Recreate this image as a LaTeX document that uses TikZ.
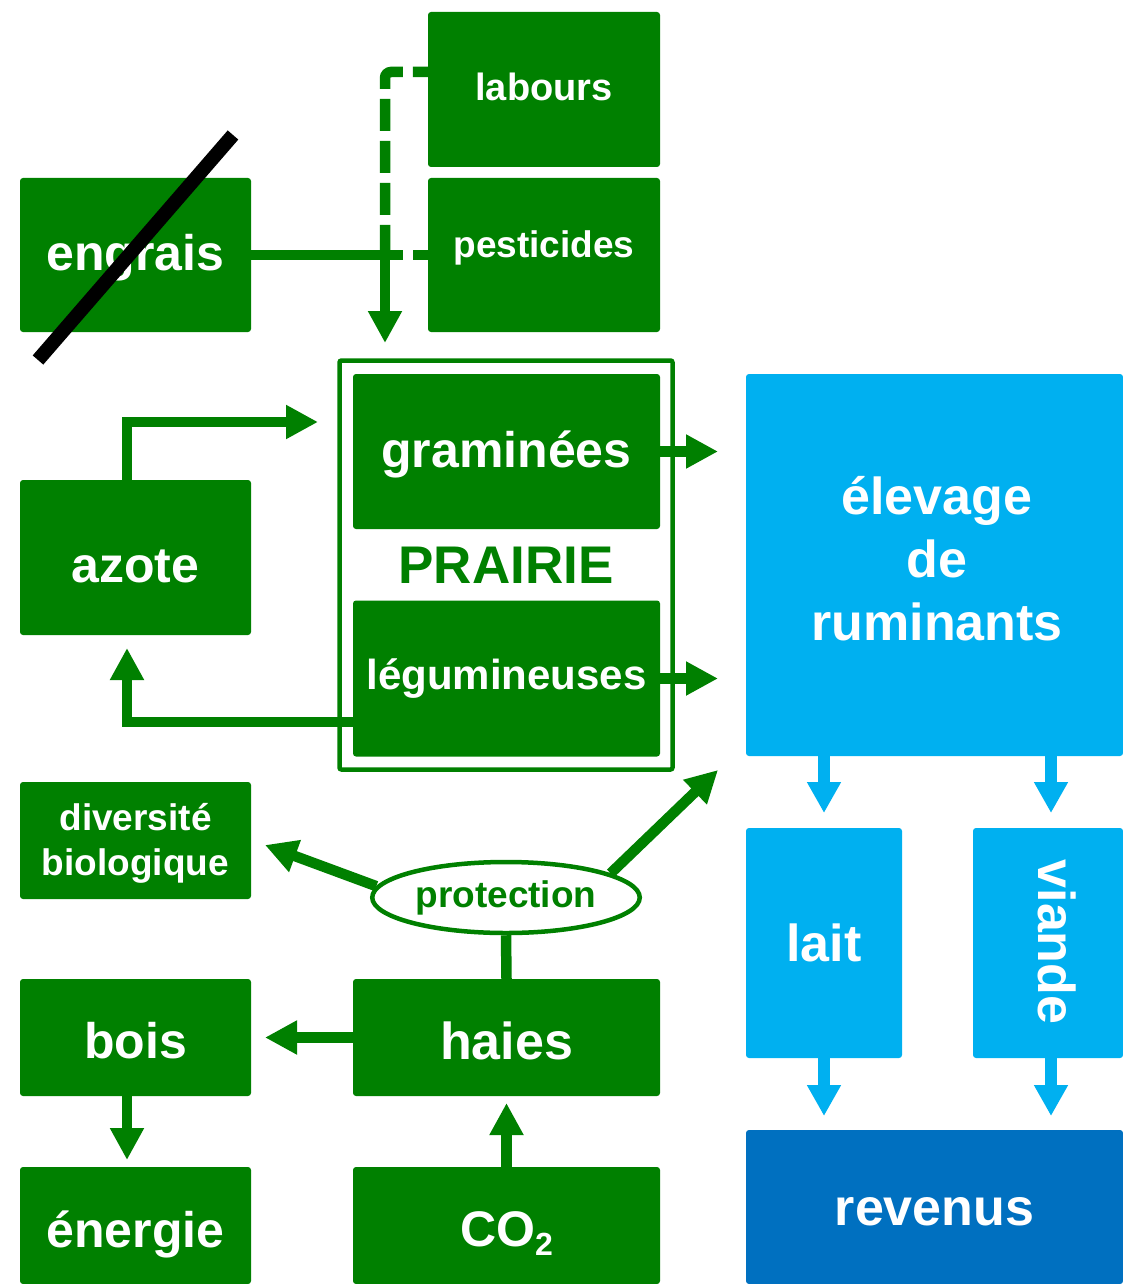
\documentclass[tikz,border=0pt]{standalone}
\usepackage{fontspec}
\setmainfont{Liberation Sans}
\usetikzlibrary{arrows.meta,shapes.geometric}
\definecolor{gr}{HTML}{008000}
\definecolor{lb}{HTML}{00B0F0}
\definecolor{db}{HTML}{0070C0}
\newcommand{\myfs}[2]{\fontsize{#1}{#2}\selectfont}
\newcommand{\mvtxt}[2]{\raisebox{#1}[\height][\depth]{#2}}
\begin{document}
\begin{tikzpicture}[x=1pt,y=-1pt,
  box/.style={rectangle, rounded corners=3pt, inner sep=0pt, text=white, align=center},
  gbox/.style={box, fill=gr},
  bbox/.style={box, fill=lb},
  tipg/.style={-{Triangle[width=32pt,length=32pt]}},
  garrow/.style={draw=gr, line width=10.5pt, tipg},
  gline/.style={draw=gr, line width=10.5pt},
  gdash/.style={draw=gr, line width=10.5pt, dash pattern=on 32pt off 10pt, dash phase=17pt},
  barrow/.style={draw=lb, line width=11.5pt, -{Triangle[width=32pt,length=31pt]}},
  fa/.style={font=\bfseries\myfs{50}{60}},
  fb/.style={font=\bfseries\myfs{52}{63}},
  fc/.style={font=\bfseries\myfs{38}{45}}
]
\useasboundingbox (0,0) rectangle (1123,1284);
\fill[white] (0,0) rectangle (1123,1284);

% top boxes
\node[gbox, fc, minimum width=232pt, minimum height=155pt] (labours) at (544,89.5) {\mvtxt{3pt}{labours}};
\node[gbox, font=\bfseries\myfs{37}{45}, minimum width=232pt, minimum height=154pt] (pesticides) at (544,255) {\mvtxt{7pt}{pesticides}};
\node[gbox, fa, minimum width=231pt, minimum height=154pt] (engrais) at (135.5,255) {\mvtxt{-3pt}{engrais}};
\node[gbox, fa, minimum width=231pt, minimum height=155pt] (azote) at (135.5,557.5) {\mvtxt{-9pt}{azote}};

% prairie
\node[draw=gr, line width=4.5pt, rounded corners=2pt, minimum width=333pt, minimum height=409pt, inner sep=0pt] (frame) at (506,565) {};
\node[gbox, fa, minimum width=307pt, minimum height=155pt] (gram) at (506.5,451.5) {\mvtxt{-3pt}{graminées}};
\node[gbox, font=\bfseries\myfs{42}{50}, minimum width=307pt, minimum height=156pt] (legum) at (506.5,678.5) {légumineuses};
\node[text=gr, font=\bfseries\myfs{53}{60}, inner sep=0pt] (prairie) at (506,565) {PRAIRIE};

% lower left
\node[gbox, minimum width=231pt, minimum height=117pt] (div) at (135.5,840.5) {};
\node[text=white, align=center, inner sep=0pt, font=\bfseries\myfs{37}{45}] (divtxt) at (135.5,843) {diversité\\biologique};
\node[gbox, fa, minimum width=231pt, minimum height=117pt] (bois) at (135.5,1037.5) {\mvtxt{-3pt}{bois}};
\node[gbox, fa, minimum width=231pt, minimum height=117pt] (energie) at (135.5,1225.5) {\mvtxt{-9pt}{énergie}};
\node[gbox, fb, minimum width=307pt, minimum height=117pt] (haies) at (506.5,1037.5) {\mvtxt{-3pt}{haies}};
\node[gbox, fa, minimum width=307pt, minimum height=117pt] (co2) at (506.5,1225.5) {\mvtxt{-8pt}{CO\raisebox{-0.35ex}{\myfs{32}{32}2}}};
\node[ellipse, draw=gr, fill=white, line width=4.5pt, minimum width=267.5pt, minimum height=71pt, inner sep=0pt, text=gr, font=\bfseries\myfs{37}{45}] (prot) at (506,897.5) {protection};

% blue
\node[bbox, minimum width=377pt, minimum height=382pt] (elev) at (934.5,565) {};
\node[text=white, align=center, inner sep=0pt, font=\bfseries\myfs{52}{63}] (elevtxt) at (937,559) {élevage\\de\\ruminants};
\node[bbox, fb, minimum width=156pt, minimum height=230pt] (lait) at (824,943) {lait};
\node[bbox, minimum width=150pt, minimum height=230pt] (viande) at (1048,943) {};
\node[text=white, font=\bfseries\myfs{52}{63}, rotate=-90, inner sep=0pt] (viandetxt) at (1057,942) {viande};
\node[box, fill=db, fb, minimum width=377pt, minimum height=154pt] (revenus) at (934.5,1207) {\mvtxt{-5pt}{revenus}};

% coordinates for free arrow ends
\coordinate (dashtip) at (385,343);
\coordinate (azotetip) at (318,422);
\coordinate (azotebot) at (127,648);
\coordinate (g2e) at (718,451.5);
\coordinate (l2e) at (718,678.5);
\coordinate (divtip) at (265,845);
\coordinate (pe) at (718,770);
\coordinate (boistip) at (265,1037.5);
\coordinate (haiestip) at (506.5,1103);
\coordinate (enertip) at (127,1160);
\coordinate (laittip) at (824,813);
\coordinate (viandetip) at (1051,813);
\coordinate (rev1) at (824,1116);
\coordinate (rev2) at (1051,1116);

% green connectors
\draw[gdash, rounded corners=6pt] ([yshift=17.5pt]labours.west) -| (385,258);
\draw[gdash] (pesticides.west) -- (385,255);
\draw[garrow] (engrais.east) -| (dashtip);
\draw[garrow] ([xshift=-8.5pt]azote.north) |- (azotetip);
\draw[garrow] ([yshift=-43.5pt]legum.west) -| (azotebot);
\draw[garrow] (gram.east) -- (g2e);
\draw[garrow] (legum.east) -- (l2e);
\draw[garrow] (prot.175) -- (divtip);
\draw[garrow] (prot.13) -- (pe);
\draw[gline] (haies.north) -- (prot.south);
\draw[garrow] (haies.west) -- (boistip);
\draw[garrow] (co2.north) -- (haiestip);
\draw[garrow] ([xshift=-8.5pt]bois.south) -- (enertip);

% blue connectors
\draw[barrow] (elev.south -| laittip) -- (laittip);
\draw[barrow] (elev.south -| viandetip) -- (viandetip);
\draw[barrow] (lait.south) -- (rev1);
\draw[barrow] (viande.south -| rev2) -- (rev2);

% crossing out engrais
\draw[black, line width=14pt] (38,360) -- (233,135);
\end{tikzpicture}
\end{document}
